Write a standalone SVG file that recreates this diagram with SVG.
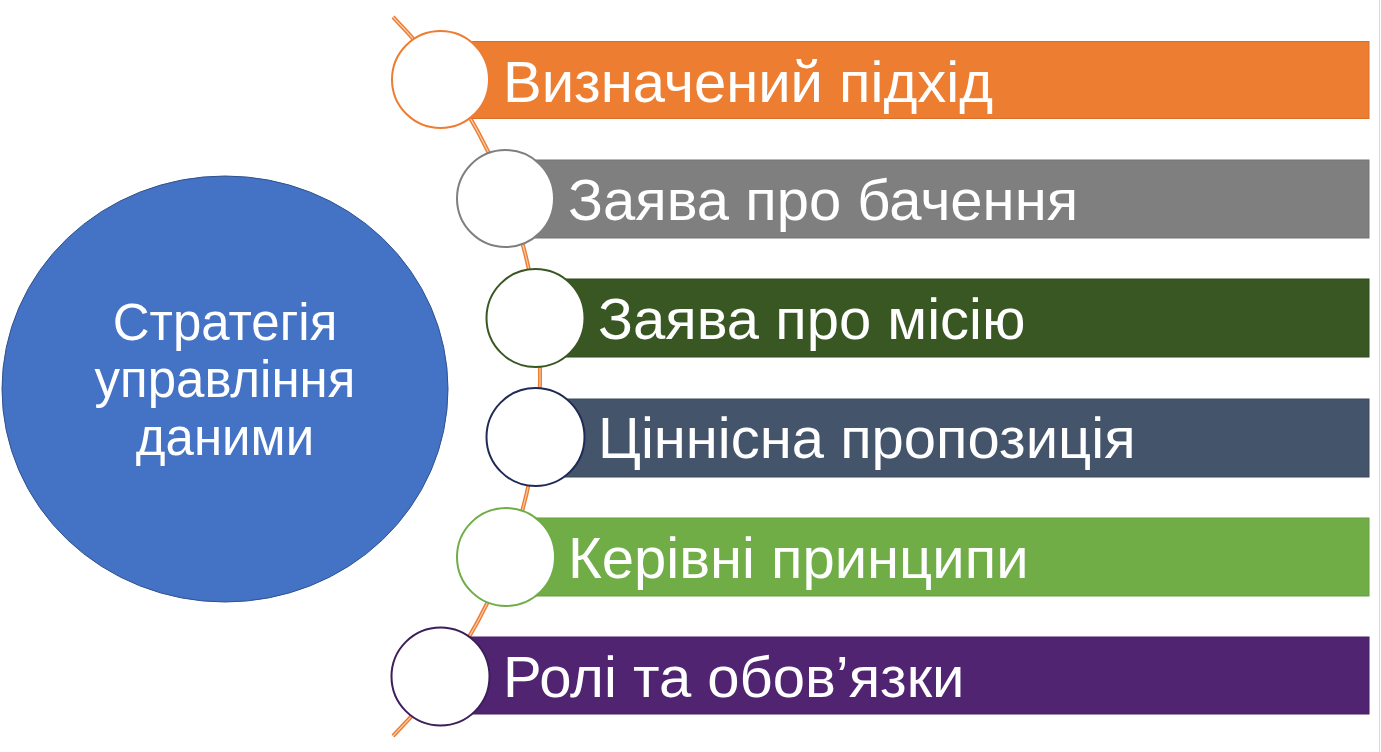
<svg xmlns="http://www.w3.org/2000/svg" width="1381" height="752" viewBox="0 0 1381 752">
<style>
.bg{fill:#ffffff}
.bar-text{font-family:"Liberation Sans",Arial,sans-serif;font-size:58px;fill:#ffffff}
.hub-text{font-family:"Liberation Sans",Arial,sans-serif;font-size:51px;fill:#ffffff;text-anchor:middle}
.dot{fill:#ffffff;stroke-width:2}
</style>
<rect class="bg" x="0" y="0" width="1381" height="752"/>
<line x1="1379.5" y1="0" x2="1379.5" y2="752" stroke="#d9d9d9" stroke-width="1"/>
<g id="connectors">
<path d="M 393 17 A 513 513 0 0 1 393 736" fill="none" stroke="#ED7D31" stroke-width="4"/>
<path d="M 393 17 A 513 513 0 0 1 393 736" fill="none" stroke="#F8CBAD" stroke-width="1.2"/>
</g>
<g id="hub">
<ellipse cx="225" cy="389" rx="223" ry="213" fill="#4472C4" stroke="#2F528F" stroke-width="1"/>
<text class="hub-text" x="225" y="340">Стратегія</text>
<text class="hub-text" x="225" y="397">управління</text>
<text class="hub-text" x="225" y="455">даними</text>
</g>
<g id="item1">
<rect x="440" y="41.5" width="929" height="77" fill="#ED7D31" stroke="#D9702A" stroke-width="1"/>
<circle class="dot" cx="440.5" cy="79.5" r="48.5" stroke="#ED7D31"/>
<text class="bar-text" x="503" y="102">Визначений підхід</text>
</g>
<g id="item2">
<rect x="505" y="160" width="864" height="78" fill="#7F7F7F" stroke="#747474" stroke-width="1"/>
<circle class="dot" cx="505.5" cy="198.5" r="48.5" stroke="#7F7F7F"/>
<text class="bar-text" x="568" y="220">Заява про бачення</text>
</g>
<g id="item3">
<rect x="535" y="279" width="834" height="78" fill="#385723" stroke="#2F4A1E" stroke-width="1"/>
<circle class="dot" cx="535.5" cy="318" r="49" stroke="#385723"/>
<text class="bar-text" x="598" y="339">Заява про місію</text>
</g>
<g id="item4">
<rect x="535" y="399" width="834" height="78" fill="#44546A" stroke="#3A485C" stroke-width="1"/>
<circle class="dot" cx="535.5" cy="437" r="49" stroke="#1F2A56"/>
<text class="bar-text" x="598" y="458">Ціннісна пропозиція</text>
</g>
<g id="item5">
<rect x="505" y="518" width="864" height="78" fill="#70AD47" stroke="#64A03E" stroke-width="1"/>
<circle class="dot" cx="506" cy="557" r="49" stroke="#70AD47"/>
<text class="bar-text" x="568" y="578">Керівні принципи</text>
</g>
<g id="item6">
<rect x="440" y="637" width="929" height="77" fill="#512472" stroke="#461F63" stroke-width="1"/>
<circle class="dot" cx="440.5" cy="676.5" r="49" stroke="#3C1E5A"/>
<text class="bar-text" x="503" y="697">Ролі та обов’язки</text>
</g>
</svg>
